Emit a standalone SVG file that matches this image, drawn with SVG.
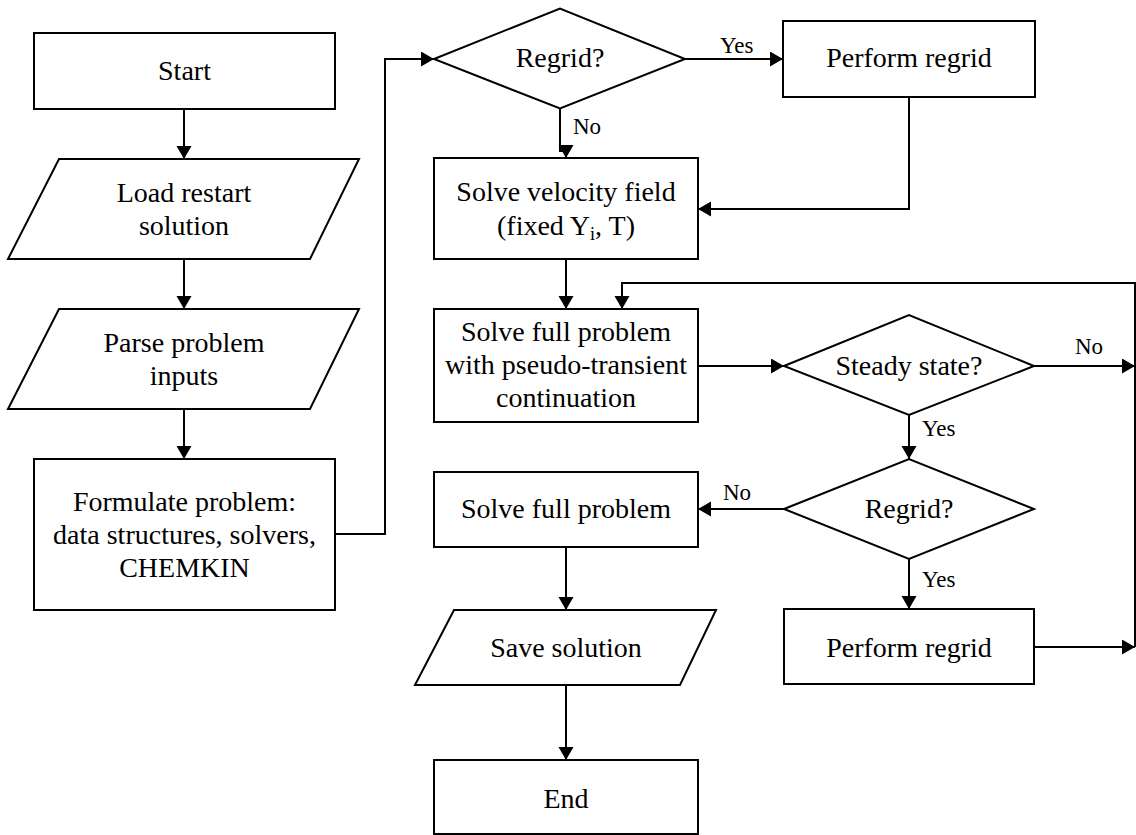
<svg xmlns="http://www.w3.org/2000/svg" width="1136" height="835" viewBox="0 0 1136 835">
<defs>
<style>
.shape{fill:#fff;stroke:#000;stroke-width:2}
.t{font-family:'Liberation Serif','Times New Roman',Times,serif;font-size:28px;fill:#000;text-anchor:middle}
.lbl{font-family:'Liberation Serif','Times New Roman',Times,serif;font-size:23px;fill:#000}
.c{fill:none;stroke:#000;stroke-width:2}
</style>
<marker id="arr" markerUnits="userSpaceOnUse" markerWidth="14" markerHeight="16" refX="13" refY="7.5" orient="auto">
<path d="M0,0 L13,7.5 L0,15 z" fill="#000"/>
</marker>
</defs>
<rect width="1136" height="835" fill="#fff"/>
<g id="connectors">
<path class="c" d="M184,109 V159" marker-end="url(#arr)"/>
<path class="c" d="M184,259 V309" marker-end="url(#arr)"/>
<path class="c" d="M184,409 V459" marker-end="url(#arr)"/>
<path class="c" d="M335,534 H385 V59 H434" marker-end="url(#arr)"/>
<path class="c" d="M685,59 H783" marker-end="url(#arr)"/>
<path class="c" d="M560,108 V151 H566 V158" marker-end="url(#arr)"/>
<path class="c" d="M909,97 V209 H698" marker-end="url(#arr)"/>
<path class="c" d="M566,259 V309" marker-end="url(#arr)"/>
<path class="c" d="M1135,647 V283 H622 V309" marker-end="url(#arr)"/>
<path class="c" d="M698,366 H784" marker-end="url(#arr)"/>
<path class="c" d="M1034,366 H1135" marker-end="url(#arr)"/>
<path class="c" d="M909,415 V459" marker-end="url(#arr)"/>
<path class="c" d="M784,509 H698" marker-end="url(#arr)"/>
<path class="c" d="M909,559 V609" marker-end="url(#arr)"/>
<path class="c" d="M1034,647 H1135" marker-end="url(#arr)"/>
<path class="c" d="M566,547 V610" marker-end="url(#arr)"/>
<path class="c" d="M566,685 V760" marker-end="url(#arr)"/>
<text class="lbl" x="720" y="53">Yes</text>
<text class="lbl" x="573" y="134">No</text>
<text class="lbl" x="1075" y="354">No</text>
<text class="lbl" x="922" y="436">Yes</text>
<text class="lbl" x="723" y="500">No</text>
<text class="lbl" x="922" y="587">Yes</text>
</g>
<g id="start">
<rect class="shape" x="34" y="33" width="301" height="76"/>
<text class="t" x="184.5" y="80">Start</text>
</g>
<g id="load-restart">
<polygon class="shape" points="59,159 359,159 310,259 8,259"/>
<text class="t" x="184" y="202">Load restart</text>
<text class="t" x="184" y="235">solution</text>
</g>
<g id="parse-inputs">
<polygon class="shape" points="59,309 359,309 310,409 8,409"/>
<text class="t" x="184" y="352">Parse problem</text>
<text class="t" x="184" y="385">inputs</text>
</g>
<g id="formulate">
<rect class="shape" x="34" y="459" width="301" height="151"/>
<text class="t" x="184.5" y="511">Formulate problem:</text>
<text class="t" x="184.5" y="544">data structures, solvers,</text>
<text class="t" x="184.5" y="577">CHEMKIN</text>
</g>
<g id="regrid1">
<polygon class="shape" points="434,59 560,8.5 685,59 560,108.5"/>
<text class="t" x="560" y="67">Regrid?</text>
</g>
<g id="perform-regrid1">
<rect class="shape" x="783" y="21" width="252" height="76"/>
<text class="t" x="909" y="67">Perform regrid</text>
</g>
<g id="solve-velocity">
<rect class="shape" x="434" y="158" width="264" height="101"/>
<text class="t" x="566" y="201">Solve velocity field</text>
<text class="t" x="566" y="235">(fixed Y<tspan font-size="18" dy="5">i</tspan><tspan dy="-5">, T)</tspan></text>
</g>
<g id="solve-full-ptc">
<rect class="shape" x="434" y="309" width="264" height="113"/>
<text class="t" x="566" y="341">Solve full problem</text>
<text class="t" x="566" y="374">with pseudo-transient</text>
<text class="t" x="566" y="407">continuation</text>
</g>
<g id="steady-state">
<polygon class="shape" points="784,366 909,315 1034,366 909,415"/>
<text class="t" x="909" y="375">Steady state?</text>
</g>
<g id="regrid2">
<polygon class="shape" points="784,509 909,459 1034,509 909,559"/>
<text class="t" x="909" y="518">Regrid?</text>
</g>
<g id="solve-full">
<rect class="shape" x="434" y="472" width="264" height="75"/>
<text class="t" x="566" y="518">Solve full problem</text>
</g>
<g id="perform-regrid2">
<rect class="shape" x="784" y="609" width="250" height="75"/>
<text class="t" x="909" y="657">Perform regrid</text>
</g>
<g id="save-solution">
<polygon class="shape" points="454,610 716,610 680,685 415,685"/>
<text class="t" x="566" y="657">Save solution</text>
</g>
<g id="end">
<rect class="shape" x="434" y="760" width="264" height="74"/>
<text class="t" x="566" y="808">End</text>
</g>
</svg>
